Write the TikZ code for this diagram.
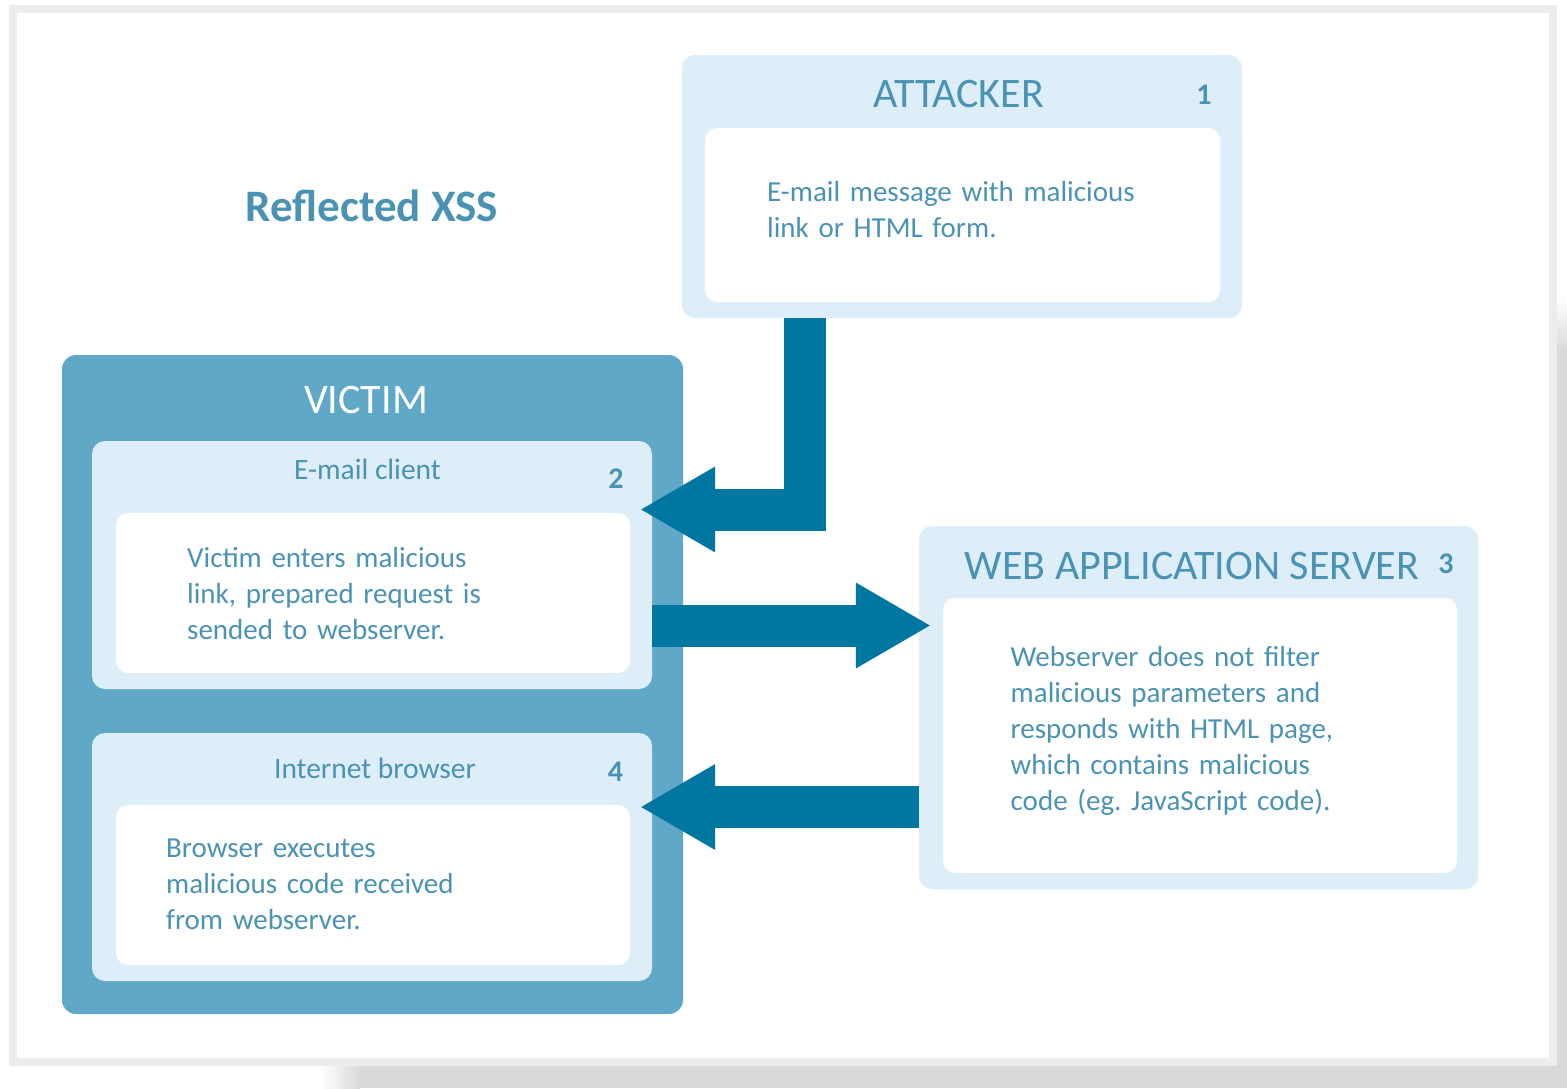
\documentclass[tikz,border=0pt]{standalone}
\usepackage{fontspec}
\setmainfont{Carlito}
\usepackage{tikz}
\usetikzlibrary{arrows.meta}
\definecolor{lightc}{HTML}{DDEEF8}
\definecolor{victimc}{HTML}{60A8C8}
\definecolor{arrowc}{HTML}{0077A0}
\definecolor{txtc}{HTML}{4A93B5}
\definecolor{framec}{HTML}{EDEDED}
\definecolor{shadowc}{HTML}{D9D9D9}
\frenchspacing

\tikzset{
  outerbox/.style={rectangle, rounded corners=13pt, fill=lightc, inner sep=0pt},
  innerbox/.style={rectangle, rounded corners=12pt, fill=white, inner sep=0pt},
  headtxt/.style={anchor=base, inner sep=0pt, text=txtc, font=\fontsize{42}{48}\selectfont},
  subtxt/.style={anchor=base, inner sep=0pt, text=txtc, font=\fontsize{29.5}{36}\selectfont},
  numtxt/.style={anchor=base, inner sep=0pt, text=txtc, font=\fontsize{30}{36}\selectfont\bfseries},
  bodytxt/.style={anchor=base west, inner sep=0pt, text width=480pt, align=left, text=txtc, font=\fontsize{29}{36}\selectfont},
  bigarrow/.style={draw=arrowc, line width=42pt, -{Triangle[length=74pt, width=86pt, line width=0pt]}}
}

\begin{document}
\begin{tikzpicture}[x=1pt, y=-1pt]
% page, frame and shadow
\fill[white] (0,0) rectangle (1567,1088);
\shade[top color=white, bottom color=shadowc] (1557,300) rectangle (1567,350);
\fill[shadowc] (1557,350) rectangle (1567,1088);
\shade[left color=white, right color=shadowc] (320,1066) rectangle (360,1088);
\fill[shadowc] (360,1066) rectangle (1567,1088);
\fill[framec] (9,5) rectangle (1557,1066);
\fill[white] (17,13) rectangle (1549,1058);

\node[font=\fontsize{45}{50}\selectfont\bfseries, text=txtc, anchor=base, inner sep=0pt] (title) at (372,221) {Reflected XSS};

% attacker
\node[outerbox, minimum width=560pt, minimum height=263pt] (attacker) at (962,186.5) {};
\node[innerbox, minimum width=515pt, minimum height=174pt] (attin) at (962.5,215) {};
\node[headtxt] (attname) at (958.5,107) {ATTACKER};
\node[numtxt] (attno) at (1204,104) {1};
\node[bodytxt] (atttxt) at (767,201) {E-mail message with malicious\\link or HTML form.};

% victim
\node[rectangle, rounded corners=14pt, fill=victimc, minimum width=621pt, minimum height=659pt, inner sep=0pt] (victim) at (372.5,684.5) {};
\node[headtxt, text=white] (vicname) at (366,413) {VICTIM};

\node[outerbox, minimum width=560pt, minimum height=248pt] (mail) at (372,565) {};
\node[innerbox, minimum width=514pt, minimum height=160pt] (mailin) at (373,593) {};
\node[subtxt] (mailname) at (367.5,479) {E-mail client};
\node[numtxt] (mailno) at (616,488) {2};
\node[bodytxt] (mailtxt) at (187,567) {Victim enters malicious\\link, prepared request is\\sended to webserver.};

\node[outerbox, minimum width=560pt, minimum height=248pt] (browser) at (372,857) {};
\node[innerbox, minimum width=514pt, minimum height=160pt] (browserin) at (373,885) {};
\node[subtxt] (browsername) at (375,778) {Internet browser};
\node[numtxt] (browserno) at (615.5,781) {4};
\node[bodytxt] (browsertxt) at (166,857) {Browser executes\\malicious code received\\from webserver.};

% web server
\node[outerbox, minimum width=559pt, minimum height=363pt] (server) at (1198.5,707.5) {};
\node[innerbox, minimum width=514pt, minimum height=275pt] (serverin) at (1200,735.5) {};
\node[headtxt] (servername) at (1192,579) {WEB APPLICATION SERVER};
\node[numtxt] (serverno) at (1446,573) {3};
\node[bodytxt] (servertxt) at (1010.5,666) {Webserver does not filter\\malicious parameters and\\responds with HTML page,\\which contains malicious\\code (eg. JavaScript code).};

% arrows
\draw[bigarrow] ([xshift=-157.5pt]attacker.south) |- ([xshift=-11pt,yshift=55.5pt]mail.east);
\draw[bigarrow] ([yshift=-60.5pt]mail.east) -- ([xshift=11pt,yshift=82pt]server.west);
\draw[bigarrow] ([yshift=-99.5pt]server.west) -- ([xshift=-11pt,yshift=50pt]browser.east);
\end{tikzpicture}
\end{document}
